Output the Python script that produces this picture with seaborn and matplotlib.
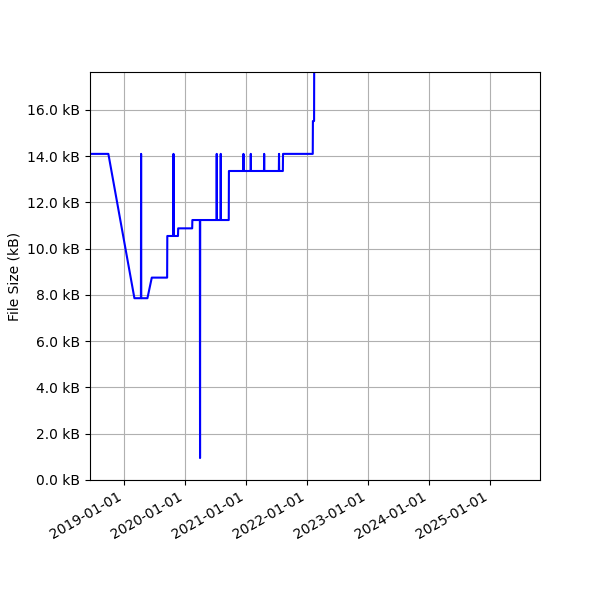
import pandas as pd
import matplotlib
matplotlib.use("Agg")
import matplotlib.pyplot as plt
import matplotlib.dates as mdates
from matplotlib.ticker import FuncFormatter
import seaborn as sns

# historico de tamanho do arquivo (data do commit, tamanho em kB)
datas = [
    "2018-06-11", "2018-09-29", "2019-03-04", "2019-04-12", "2019-04-13", "2019-04-14",
    "2019-05-21", "2019-06-16", "2019-09-16", "2019-09-17", "2019-10-23", "2019-10-24",
    "2019-10-25", "2019-11-20", "2019-11-21", "2020-02-13", "2020-02-14", "2020-03-30",
    "2020-03-31", "2020-04-01", "2020-07-08", "2020-07-09", "2020-07-10", "2020-08-01",
    "2020-08-02", "2020-08-03", "2020-09-19", "2020-09-20", "2020-12-15", "2020-12-16",
    "2020-12-17", "2021-01-28", "2021-01-29", "2021-01-30", "2021-04-18", "2021-04-19",
    "2021-04-20", "2021-07-16", "2021-07-17", "2021-07-18", "2021-08-09", "2021-08-10",
    "2022-02-04", "2022-02-05", "2022-02-12", "2022-02-13", "2023-06-01", "2025-05-01",
]
tamanhos_kb = [
    14.10, 14.10, 7.86, 7.86, 14.10, 7.86,
    7.86, 8.75, 8.75, 10.55, 10.55, 14.10,
    10.55, 10.55, 10.88, 10.88, 11.24, 11.24,
    0.95, 11.24, 11.24, 14.10, 11.24, 11.24,
    14.10, 11.24, 11.24, 13.36, 13.36, 14.10,
    13.36, 13.36, 14.10, 13.36, 13.36, 14.10,
    13.36, 13.36, 14.10, 13.36, 13.36, 14.10,
    14.10, 15.52, 15.52, 19.20, 20.50, 22.00,
]

df = pd.DataFrame({"data": pd.to_datetime(datas), "tamanho": tamanhos_kb})

fig, ax = plt.subplots(figsize=(6, 6), dpi=100)
sns.lineplot(x="data", y="tamanho", data=df, color="blue", linewidth=1.5,
             estimator=None, sort=False, ax=ax)

ax.set_xlim(pd.Timestamp("2018-06-11"), pd.Timestamp("2025-10-27"))
ax.set_ylim(0, 17.64)
ax.xaxis.set_major_locator(mdates.YearLocator())
ax.xaxis.set_major_formatter(mdates.DateFormatter("%Y-%m-%d"))
ax.yaxis.set_major_formatter(FuncFormatter(lambda v, p: f"{v:.1f} kB"))
ax.set_xlabel("")
ax.set_ylabel("File Size (kB)")
ax.grid(True)
fig.autofmt_xdate()
fig.subplots_adjust(left=0.15, right=0.9, top=0.88, bottom=0.2)

plt.savefig("out.png", dpi=100)
plt.close()
